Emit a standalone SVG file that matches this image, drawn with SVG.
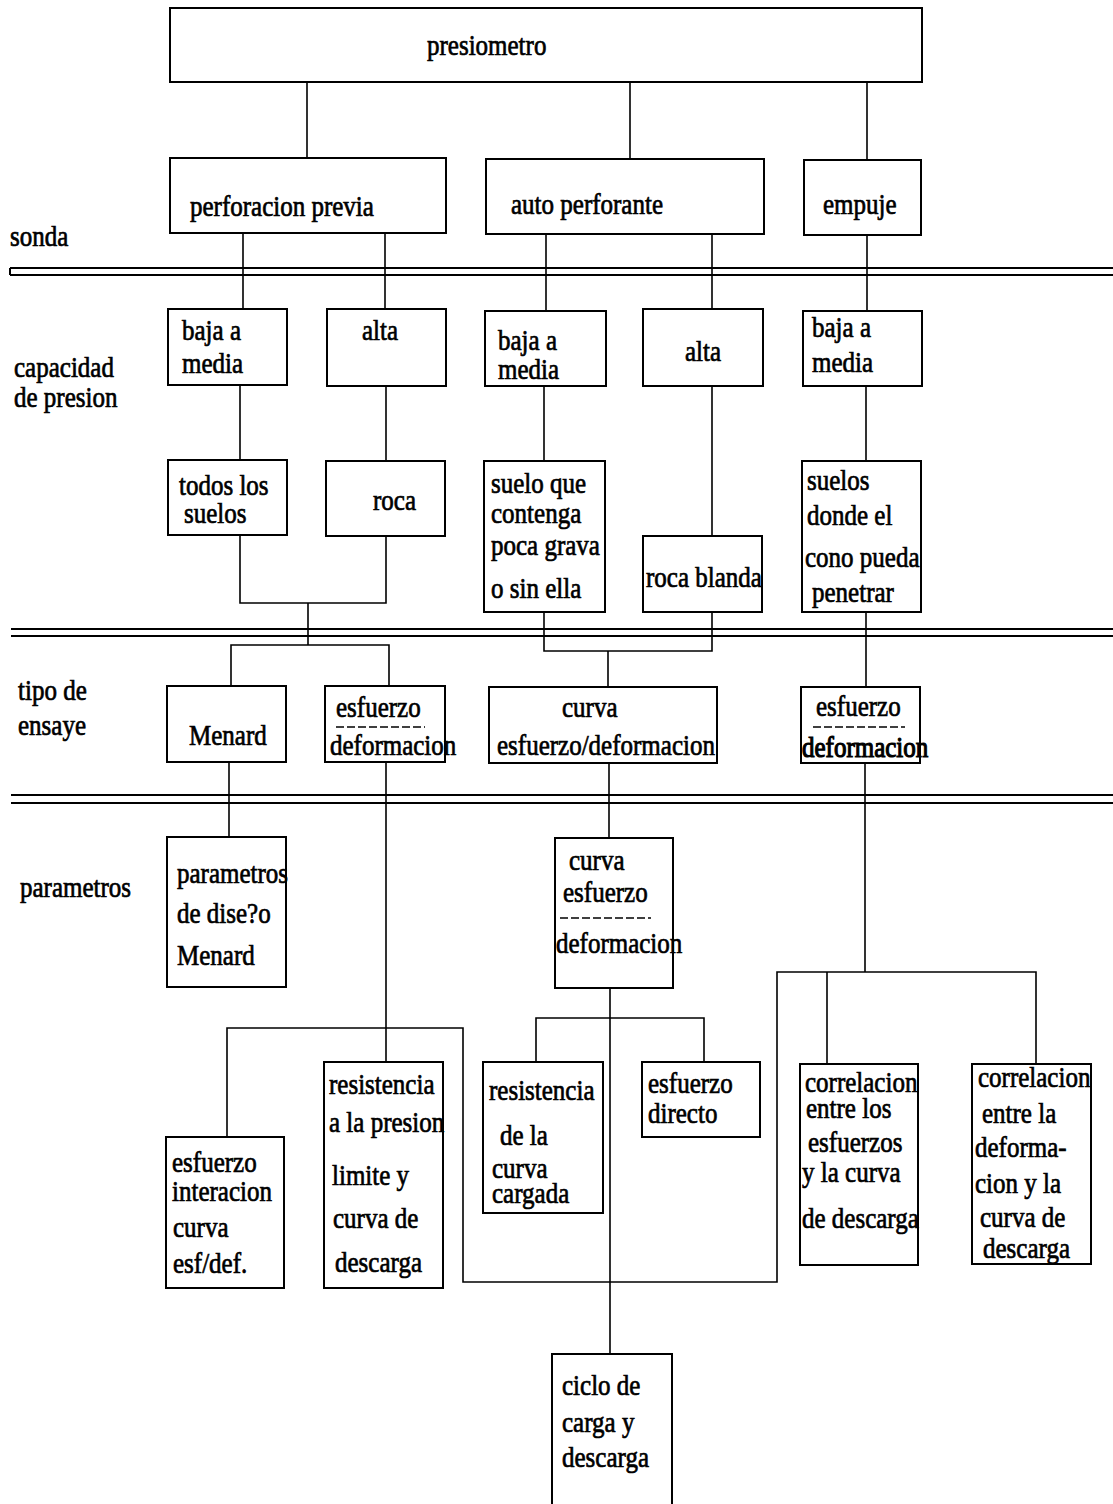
<svg xmlns="http://www.w3.org/2000/svg" width="1113" height="1504" viewBox="0 0 1113 1504">
  <style>
    .box { fill: none; stroke: #000; stroke-width: 2; }
    .t { font-family: "Liberation Serif", "Times New Roman", serif; font-size: 25px; fill: #000; stroke: #000; stroke-width: 0.6; }
    .conn { fill: none; stroke: #000; stroke-width: 1.6; }
    .div { fill: none; stroke: #000; stroke-width: 2; }
    .dash { fill: none; stroke: #000; stroke-width: 1.5; stroke-dasharray: 8 3; }
  </style>
  <rect width="1113" height="1504" fill="#fff"/>

  <!-- section dividers -->
  <g id="dividers">
    <path class="div" d="M10,268 H1113 M10,275 H1113 M10,268 V275"/>
    <path class="div" d="M11,629 H1113 M11,636 H1113"/>
    <path class="div" d="M11,795 H1113 M11,803 H1113"/>
  </g>

  <!-- row labels; every text is stretched 1.2x vertically about its baseline -->
  <g id="row-labels">
    <text class="t" transform="translate(10,246) scale(1,1.2)">sonda</text>
    <text class="t" transform="translate(14,377) scale(1,1.2)">capacidad</text>
    <text class="t" transform="translate(14,407) scale(1,1.2)">de presion</text>
    <text class="t" transform="translate(18,700) scale(1,1.2)">tipo de</text>
    <text class="t" transform="translate(18,735) scale(1,1.2)">ensaye</text>
    <text class="t" transform="translate(20,897) scale(1,1.2)">parametros</text>
  </g>

  <!-- connectors -->
  <g id="connectors">
    <path class="conn" d="M307,82 V158 M630,82 V159 M867,82 V160"/>
    <path class="conn" d="M243,233 V310 M385,233 V310 M546,234 V311 M712,234 V310 M867,235 V311"/>
    <path class="conn" d="M240,385 V460 M386,386 V461 M544,386 V461 M712,386 V536 M866,386 V461"/>
    <path class="conn" d="M240,535 V603 H386 V536 M308,603 V645 M231,686 V645 H389 V686"/>
    <path class="conn" d="M544,612 V651 H712 V612 M608,651 V687"/>
    <path class="conn" d="M866,612 V687"/>
    <path class="conn" d="M229,762 V837"/>
    <path class="conn" d="M386,762 V1062 M227,1137 V1028 H463 V1282 H777 V972 H1036 V1064 M827,972 V1064 M865,762 V972"/>
    <path class="conn" d="M609,763 V838"/>
    <path class="conn" d="M610,988 V1354 M536,1062 V1018 H704 V1062"/>
  </g>

  <g id="presiometro">
    <rect class="box" x="170" y="8" width="752" height="74"/>
    <text class="t" transform="translate(427,55) scale(1,1.2)">presiometro</text>
  </g>

  <g id="perforacion-previa">
    <rect class="box" x="170" y="158" width="276" height="75"/>
    <text class="t" transform="translate(190,216) scale(1,1.2)">perforacion previa</text>
  </g>
  <g id="auto-perforante">
    <rect class="box" x="486" y="159" width="278" height="75"/>
    <text class="t" transform="translate(511,214) scale(1,1.2)">auto perforante</text>
  </g>
  <g id="empuje">
    <rect class="box" x="804" y="160" width="117" height="75"/>
    <text class="t" transform="translate(823,214) scale(1,1.2)">empuje</text>
  </g>

  <g id="baja-media-1">
    <rect class="box" x="168" y="309" width="119" height="76"/>
    <text class="t" transform="translate(182,340) scale(1,1.2)">baja a</text>
    <text class="t" transform="translate(182,373) scale(1,1.2)">media</text>
  </g>
  <g id="alta-1">
    <rect class="box" x="327" y="309" width="119" height="77"/>
    <text class="t" transform="translate(362,340) scale(1,1.2)">alta</text>
  </g>
  <g id="baja-media-2">
    <rect class="box" x="485" y="311" width="121" height="75"/>
    <text class="t" transform="translate(498,350) scale(1,1.2)">baja a</text>
    <text class="t" transform="translate(498,379) scale(1,1.2)">media</text>
  </g>
  <g id="alta-2">
    <rect class="box" x="643" y="309" width="120" height="77"/>
    <text class="t" transform="translate(685,361) scale(1,1.2)">alta</text>
  </g>
  <g id="baja-media-3">
    <rect class="box" x="803" y="311" width="119" height="75"/>
    <text class="t" transform="translate(812,337) scale(1,1.2)">baja a</text>
    <text class="t" transform="translate(812,372) scale(1,1.2)">media</text>
  </g>

  <g id="todos-los-suelos">
    <rect class="box" x="168" y="460" width="119" height="75"/>
    <text class="t" transform="translate(179,495) scale(1,1.2)">todos los</text>
    <text class="t" transform="translate(184,523) scale(1,1.2)">suelos</text>
  </g>
  <g id="roca">
    <rect class="box" x="326" y="461" width="119" height="75"/>
    <text class="t" transform="translate(373,510) scale(1,1.2)">roca</text>
  </g>
  <g id="suelo-grava">
    <rect class="box" x="484" y="461" width="121" height="151"/>
    <text class="t" transform="translate(491,493) scale(1,1.2)">suelo que</text>
    <text class="t" transform="translate(491,523) scale(1,1.2)">contenga</text>
    <text class="t" transform="translate(491,555) scale(1,1.2)">poca grava</text>
    <text class="t" transform="translate(491,598) scale(1,1.2)">o sin ella</text>
  </g>
  <g id="roca-blanda">
    <rect class="box" x="643" y="536" width="119" height="76"/>
    <text class="t" transform="translate(646,587) scale(1,1.2)">roca blanda</text>
  </g>
  <g id="suelos-cono">
    <rect class="box" x="802" y="461" width="119" height="151"/>
    <text class="t" transform="translate(807,490) scale(1,1.2)">suelos</text>
    <text class="t" transform="translate(807,525) scale(1,1.2)">donde el</text>
    <text class="t" transform="translate(805,567) scale(1,1.2)">cono pueda</text>
    <text class="t" transform="translate(812,602) scale(1,1.2)">penetrar</text>
  </g>

  <g id="menard">
    <rect class="box" x="167" y="686" width="119" height="76"/>
    <text class="t" transform="translate(189,745) scale(1,1.2)">Menard</text>
  </g>
  <g id="esfuerzo-deformacion-1">
    <rect class="box" x="325" y="686" width="120" height="76"/>
    <text class="t" transform="translate(336,717) scale(1,1.2)">esfuerzo</text>
    <path class="dash" d="M336,727 H425"/>
    <text class="t" transform="translate(330,755) scale(1,1.2)">deformacion</text>
  </g>
  <g id="curva-esfuerzo-deformacion">
    <rect class="box" x="489" y="687" width="228" height="76"/>
    <text class="t" transform="translate(562,717) scale(1,1.2)">curva</text>
    <text class="t" transform="translate(497,755) scale(1,1.2)">esfuerzo/deformacion</text>
  </g>
  <g id="esfuerzo-deformacion-2">
    <rect class="box" x="801" y="687" width="119" height="76"/>
    <text class="t" transform="translate(816,716) scale(1,1.2)">esfuerzo</text>
    <path class="dash" d="M813,727 H905"/>
    <text class="t" transform="translate(802,757) scale(1,1.2)" style="stroke-width:1">deformacion</text>
  </g>

  <g id="parametros-menard">
    <rect class="box" x="167" y="837" width="119" height="150"/>
    <text class="t" transform="translate(177,883) scale(1,1.2)">parametros</text>
    <text class="t" transform="translate(177,923) scale(1,1.2)">de dise?o</text>
    <text class="t" transform="translate(177,965) scale(1,1.2)">Menard</text>
  </g>
  <g id="curva-esfuerzo">
    <rect class="box" x="555" y="838" width="118" height="150"/>
    <text class="t" transform="translate(569,870) scale(1,1.2)">curva</text>
    <text class="t" transform="translate(563,902) scale(1,1.2)">esfuerzo</text>
    <path class="dash" d="M560,918 H651"/>
    <text class="t" transform="translate(556,953) scale(1,1.2)">deformacion</text>
  </g>

  <g id="esfuerzo-interacion">
    <rect class="box" x="166" y="1137" width="118" height="151"/>
    <text class="t" transform="translate(172,1172) scale(1,1.2)">esfuerzo</text>
    <text class="t" transform="translate(172,1201) scale(1,1.2)">interacion</text>
    <text class="t" transform="translate(173,1237) scale(1,1.2)">curva</text>
    <text class="t" transform="translate(173,1273) scale(1,1.2)">esf/def.</text>
  </g>
  <g id="resistencia-presion">
    <rect class="box" x="324" y="1062" width="119" height="226"/>
    <text class="t" transform="translate(329,1094) scale(1,1.2)">resistencia</text>
    <text class="t" transform="translate(329,1132) scale(1,1.2)">a la presion</text>
    <text class="t" transform="translate(332,1185) scale(1,1.2)">limite y</text>
    <text class="t" transform="translate(333,1228) scale(1,1.2)">curva de</text>
    <text class="t" transform="translate(335,1272) scale(1,1.2)">descarga</text>
  </g>
  <g id="resistencia-curva">
    <rect class="box" x="483" y="1062" width="120" height="151"/>
    <text class="t" transform="translate(489,1100) scale(1,1.2)">resistencia</text>
    <text class="t" transform="translate(500,1145) scale(1,1.2)">de la</text>
    <text class="t" transform="translate(492,1178) scale(1,1.2)">curva</text>
    <text class="t" transform="translate(492,1203) scale(1,1.2)">cargada</text>
  </g>
  <g id="esfuerzo-directo">
    <rect class="box" x="642" y="1062" width="118" height="75"/>
    <text class="t" transform="translate(648,1093) scale(1,1.2)">esfuerzo</text>
    <text class="t" transform="translate(648,1123) scale(1,1.2)">directo</text>
  </g>
  <g id="correlacion-esfuerzos">
    <rect class="box" x="800" y="1064" width="118" height="201"/>
    <text class="t" transform="translate(805,1092) scale(1,1.2)">correlacion</text>
    <text class="t" transform="translate(806,1118) scale(1,1.2)">entre los</text>
    <text class="t" transform="translate(808,1152) scale(1,1.2)">esfuerzos</text>
    <text class="t" transform="translate(802,1182) scale(1,1.2)">y la curva</text>
    <text class="t" transform="translate(802,1228) scale(1,1.2)">de descarga</text>
  </g>
  <g id="correlacion-deformacion">
    <rect class="box" x="972" y="1064" width="119" height="200"/>
    <text class="t" transform="translate(978,1087) scale(1,1.2)">correlacion</text>
    <text class="t" transform="translate(982,1123) scale(1,1.2)">entre la</text>
    <text class="t" transform="translate(975,1157) scale(1,1.2)">deforma-</text>
    <text class="t" transform="translate(975,1193) scale(1,1.2)">cion y la</text>
    <text class="t" transform="translate(980,1227) scale(1,1.2)">curva de</text>
    <text class="t" transform="translate(983,1258) scale(1,1.2)">descarga</text>
  </g>

  <g id="ciclo-carga-descarga">
    <path class="box" d="M552,1506 V1354 H672 V1506"/>
    <text class="t" transform="translate(562,1395) scale(1,1.2)">ciclo de</text>
    <text class="t" transform="translate(562,1432) scale(1,1.2)">carga y</text>
    <text class="t" transform="translate(562,1467) scale(1,1.2)">descarga</text>
  </g>
</svg>
